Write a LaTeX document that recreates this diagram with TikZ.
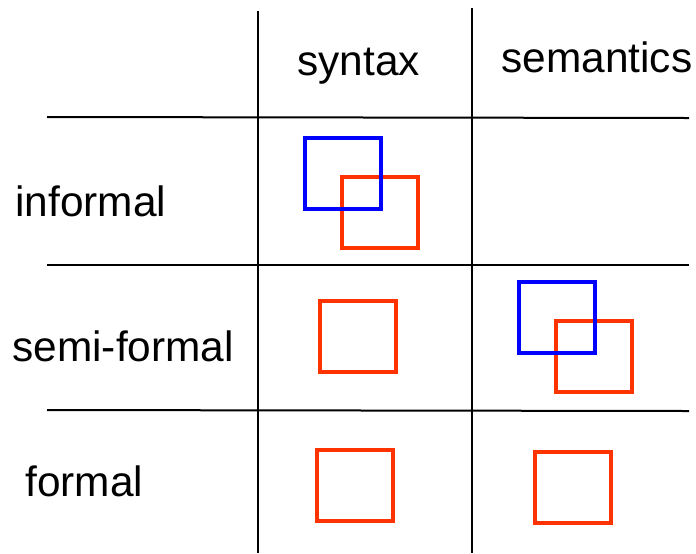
\documentclass[tikz,border=0pt]{standalone}
\usepackage{fontspec}
\setmainfont{Liberation Sans}
\definecolor{boxred}{HTML}{FF3300}
\definecolor{boxblue}{HTML}{0000FF}
\begin{document}
\begin{tikzpicture}[x=0.5pt,y=-0.5pt,
  gridline/.style={line width=1pt,black},
  label/.style={font=\fontsize{21.2}{25}\selectfont,anchor=base west,inner sep=0pt},
  sq/.style={draw,line width=2pt,minimum width=38pt,minimum height=35.5pt,inner sep=0pt},
  redsq/.style={sq,draw=boxred},
  bluesq/.style={sq,draw=boxblue}]
\useasboundingbox (0,0) rectangle (696,553);
% table rules
\coordinate (v1t) at (258,11);  \coordinate (v1b) at (258,553);
\coordinate (v2t) at (472,8);   \coordinate (v2b) at (472,553);
\coordinate (h1l) at (47,117);  \coordinate (h1r) at (689,118);
\coordinate (h2l) at (47,265);  \coordinate (h2r) at (689,265);
\coordinate (h3l) at (47,410);  \coordinate (h3r) at (689,411);
\draw[gridline] (v1t) -- (v1b);
\draw[gridline] (v2t) -- (v2b);
\draw[gridline] (h1l) -- (h1r);
\draw[gridline] (h2l) -- (h2r);
\draw[gridline] (h3l) -- (h3r);
% headings
\node[label] (syn) at (297,75) {syntax};
\node[label] (sem) at (501,72) {semantics};
\node[label] (inf) at (15,216) {informal};
\node[label] (semi) at (12,361) {semi-formal};
\node[label] (form) at (25,496) {formal};
% squares: red ones first, blue ones on top
\node[redsq]  (r1) at (380,212) {};
\node[redsq]  (r2) at (358,336) {};
\node[redsq]  (r3) at (594,356.5) {};
\node[redsq]  (r4) at (354.5,485) {};
\node[redsq]  (r5) at (572.5,487) {};
\node[bluesq] (b1) at (342.5,173) {};
\node[bluesq] (b2) at (557,317) {};
\end{tikzpicture}
\end{document}
